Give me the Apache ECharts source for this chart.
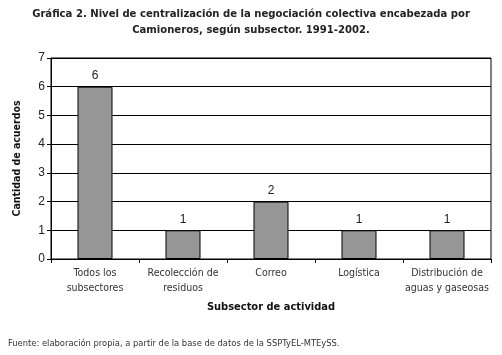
<!DOCTYPE html>
<html><head><meta charset="utf-8">
<script src="https://cdn.jsdelivr.net/npm/echarts@6/dist/echarts.min.js"></script>
<style>html,body{margin:0;padding:0;background:#fff}#c{width:502px;height:355px}</style>
</head><body><div id="c"></div>
<script>
const categories = ['Todos los\nsubsectores', 'Recolección de\nresiduos', 'Correo', 'Logística', 'Distribución de\naguas y gaseosas'];
const values = [6, 1, 2, 1, 1];
const yTicks = [0, 1, 2, 3, 4, 5, 6, 7];
const titleText = 'Gráfica 2. Nivel de centralización de la negociación colectiva encabezada por\nCamioneros, según subsector. 1991-2002.';
const sourceText = 'Fuente: elaboración propia, a partir de la base de datos de la SSPTyEL-MTEySS.';
const font = '"DejaVu Sans Condensed", "Roboto", sans-serif';

const chart = echarts.init(document.getElementById('c'), null, {renderer: 'canvas'});
chart.setOption({
  animation: false,
  backgroundColor: '#fff',
  title: [{
    text: titleText, left: 'center', top: 1,
    textStyle: {fontFamily: font, fontSize: 11.2, fontWeight: 'bold', color: '#222', lineHeight: 16, align: 'center'}
  }, {
    text: sourceText, left: 3, top: 334,
    textStyle: {fontFamily: font, fontSize: 9.3, fontWeight: 'normal', color: '#333'}
  }],
  grid: {left: 51, right: 11, top: 58, bottom: 96, show: true, borderColor: '#000', borderWidth: 1},
  xAxis: {
    type: 'category', data: categories,
    name: 'Subsector de actividad', nameLocation: 'middle', nameGap: 43,
    nameTextStyle: {fontFamily: font, fontSize: 11, fontWeight: 'bold', color: '#111'},
    axisLine: {lineStyle: {color: '#000'}},
    axisTick: {show: true, length: 4, inside: false, lineStyle: {color: '#000'}},
    axisLabel: {fontFamily: font, fontSize: 10.5, color: '#333', lineHeight: 15, margin: 7, interval: 0},
    splitLine: {show: false}
  },
  yAxis: {
    type: 'value', min: yTicks[0], max: yTicks[yTicks.length - 1], interval: 1,
    name: 'Cantidad de acuerdos', nameLocation: 'middle', nameGap: 28, nameRotate: 90,
    nameTextStyle: {fontFamily: '"DejaVu Sans Condensed", sans-serif', fontSize: 10.5, fontWeight: 'bold', color: '#111'},
    axisLine: {show: true, lineStyle: {color: '#000'}},
    axisTick: {show: true, length: 4, lineStyle: {color: '#000'}},
    axisLabel: {fontFamily: '"Liberation Sans", sans-serif', fontSize: 12, color: '#222', margin: 6},
    splitLine: {show: true, lineStyle: {color: '#000', width: 1}}
  },
  series: [{
    type: 'bar', data: values, barWidth: 35,
    itemStyle: {color: '#969696', borderColor: '#000', borderWidth: 1},
    label: {show: true, position: 'top', distance: 5, fontFamily: '"Liberation Sans", sans-serif', fontSize: 12, color: '#222'}
  }]
});
</script></body></html>
